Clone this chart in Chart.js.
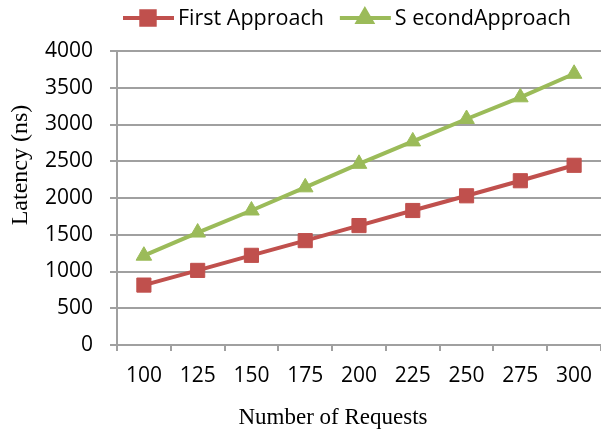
<!DOCTYPE html>
<html>
<head>
<meta charset="utf-8">
<script src="https://cdn.jsdelivr.net/npm/chart.js@4/dist/chart.umd.min.js"></script>
<style>
  html, body { margin: 0; padding: 0; background: #fff; }
  #wrap { width: 601px; height: 432px; }
</style>
</head>
<body>
<div id="wrap"><canvas id="latencyChart" width="601" height="432"></canvas></div>
<script>
// values
const requests = ["100", "125", "150", "175", "200", "225", "250", "275", "300"];
const firstApproach = [815, 1015, 1220, 1420, 1625, 1830, 2030, 2235, 2445];
const secondApproach = [1215, 1530, 1830, 2145, 2465, 2770, 3075, 3370, 3690];
const seriesNames = ["First Approach", "S econdApproach"];
const xTitle = "Number of Requests";
const yTitle = "Latency (ns)";

const RED = "#c0504d";
const GREEN = "#9bbb59";
const GRID = "#a0a0a0";
const SANS = "'Open Sans', sans-serif";
const SERIF = "'Liberation Serif', 'Times New Roman', serif";
const tickFont = { family: SANS, size: 21 };
// tall line height pushes x labels down without adding ticks.padding
const xTickFont = { family: SANS, size: 21, lineHeight: 2.34 };

// legend (line + marker) and axis titles drawn by hand: the titles in the
// original sit off-centre from the plot, which scale titles can't do
const extras = {
  id: "extras",
  afterDraw(chart) {
    const ctx = chart.ctx;
    const y = 18;
    let x = 123;
    chart.data.datasets.forEach((ds) => {
      ctx.save();
      ctx.strokeStyle = ds.borderColor;
      ctx.lineWidth = 4;
      ctx.beginPath();
      ctx.moveTo(x, y);
      ctx.lineTo(x + 51, y);
      ctx.stroke();
      ctx.fillStyle = ds.borderColor;
      Chart.helpers.drawPoint(ctx, {
        pointStyle: ds.pointStyle,
        radius: ds.pointStyle === "rect" ? 9.5 : 8,
        rotation: 0,
        borderWidth: 1
      }, x + 25, y);
      ctx.fill();
      ctx.font = `21.5px ${SANS}`;
      ctx.fillStyle = "#000";
      ctx.textBaseline = "middle";
      ctx.textAlign = "left";
      ctx.fillText(ds.label, x + 55, y + 1);
      x += 55 + ctx.measureText(ds.label).width + 16;
      ctx.restore();
    });

    ctx.save();
    ctx.fillStyle = "#000";
    ctx.textAlign = "center";
    ctx.textBaseline = "middle";
    ctx.font = `23px ${SERIF}`;
    ctx.fillText(xTitle, 333, 418);
    ctx.translate(21, 165);
    ctx.rotate(-Math.PI / 2);
    ctx.font = `24px ${SERIF}`;
    ctx.fillText(yTitle, 0, 0);
    ctx.restore();
  }
};

new Chart(document.getElementById("latencyChart"), {
  type: "line",
  data: {
    labels: requests,
    datasets: [
      {
        label: seriesNames[0],
        data: firstApproach,
        borderColor: RED,
        backgroundColor: RED,
        borderWidth: 4,
        pointStyle: "rect",
        pointRadius: 10,
        pointBorderWidth: 1,
        tension: 0
      },
      {
        label: seriesNames[1],
        data: secondApproach,
        borderColor: GREEN,
        backgroundColor: GREEN,
        borderWidth: 4,
        pointStyle: "triangle",
        pointRadius: 9,
        pointBorderWidth: 1,
        tension: 0
      }
    ]
  },
  options: {
    responsive: false,
    animation: false,
    layout: {
      autoPadding: false, // otherwise point radius shrinks the plot on the right
      padding: { top: 51, right: 0, left: 0, bottom: 0 }
    },
    plugins: {
      legend: { display: false },
      tooltip: { enabled: false }
    },
    scales: {
      x: {
        offset: true,
        grid: {
          offset: true,
          drawOnChartArea: false,
          drawTicks: true,
          tickLength: 6,
          color: GRID,
          lineWidth: 2
        },
        border: { display: true, color: GRID, width: 2 },
        ticks: { color: "#000", font: xTickFont, padding: 0, maxRotation: 0 },
        afterFit(scale) {
          scale.height = 87;
          scale.paddingLeft = 0;
          scale.paddingRight = 0;
        }
      },
      y: {
        min: 0,
        max: 4000,
        ticks: {
          stepSize: 500,
          color: "#000",
          font: tickFont,
          padding: 17,
          callback: (v) => String(v)
        },
        grid: { color: GRID, lineWidth: 2, drawTicks: true, tickLength: 7 },
        border: { display: true, color: GRID, width: 2 },
        afterFit(scale) { scale.width = 117; }
      }
    }
  },
  plugins: [extras]
});
</script>
</body>
</html>
